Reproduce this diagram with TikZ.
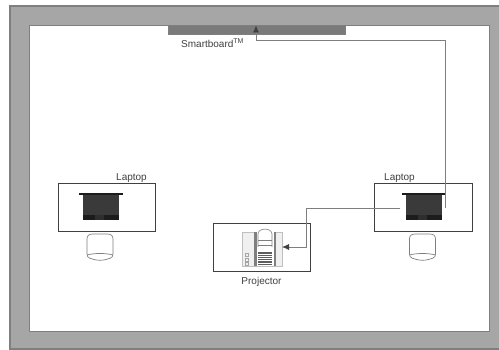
\documentclass[tikz,border=0pt]{standalone}
\usepackage{fontspec}
\setmainfont{Liberation Sans}
\usetikzlibrary{arrows.meta,calc}
\definecolor{wallfill}{HTML}{A6A6A6}
\definecolor{wallline}{HTML}{7F7F7F}
\definecolor{boardfill}{HTML}{7A7A7A}
\definecolor{ink}{HTML}{404040}
\definecolor{lap}{HTML}{3A3A3A}
\definecolor{lapdark}{HTML}{1C1C1C}
\tikzset{
  px/.style={x=1pt,y=-1pt},
  boxnode/.style={draw=ink,line width=0.8pt,fill=white,inner sep=0pt,outer sep=0pt},
  wire/.style={draw=wallline,line width=0.8pt},
  wirearrow/.style={wire,-{Latex[length=7pt,width=6pt,color=ink]}},
  lbl/.style={font=\fontsize{10}{12}\selectfont,text=ink,inner sep=0pt},
  chairline/.style={draw=wallline,line width=0.7pt,fill=white}
}
\newcommand{\laptopicon}[1]{% centre x
  \fill[lapdark] (#1-22,193.5) rectangle (#1+22,195);
  \fill[lap] (#1-18,195) rectangle (#1+18,215);
  \fill[lapdark] (#1-18,215) rectangle (#1+18,220);
  \fill[black!82] (#1-6,215.5) rectangle (#1+3,220);
}
\newcommand{\chairicon}[1]{% centre x
  \draw[chairline] (#1-13,239) .. controls (#1-13,235.5) and (#1-11,234) .. (#1-7,234)
     -- (#1+7,234) .. controls (#1+11,234) and (#1+13,235.5) .. (#1+13,239)
     -- (#1+13,254) .. controls (#1+13,258) and (#1+9,259) .. (#1+6,259.5)
     .. controls (#1+3,260.5) and (#1-3,260.5) .. (#1-6,259.5)
     .. controls (#1-9,259) and (#1-13,258) .. (#1-13,254) -- cycle;
  \draw[chairline,fill=none] (#1-13,255) .. controls (#1-6,253) and (#1+6,253) .. (#1+13,255);
}
\begin{document}
\begin{tikzpicture}[px]
\useasboundingbox (0,0) rectangle (499,350);
\fill[white] (0,0) rectangle (499,350);
% walls
\path[fill=wallfill] (10,6) rectangle (499,349);
\draw[wallline,line width=1.2pt] (499,6) -- (10,6) -- (10,349) -- (499,349);
\node[draw=wallline,line width=1.2pt,fill=white,minimum width=460pt,minimum height=306pt,inner sep=0pt,anchor=north west] (room) at (29,25) {};
% smartboard
\node[fill=boardfill,draw=wallline,line width=0.5pt,minimum width=177pt,minimum height=9pt,inner sep=0pt,anchor=north west] (board) at (168,25) {};
\node[lbl,anchor=north west] (boardlabel) at (181,38.5) {Smartboard\textsuperscript{\fontsize{7}{7}\selectfont TM}};
% desks
\node[boxnode,minimum width=97pt,minimum height=48pt,anchor=north west] (deskL) at (58,183) {};
\node[boxnode,minimum width=98pt,minimum height=48pt,anchor=north west] (deskR) at (374,183) {};
\node[boxnode,minimum width=97pt,minimum height=48pt,anchor=north west] (proj) at (213,223) {};
% labels
\node[lbl,anchor=south west] (lapL) at (116,183) {Laptop};
\node[lbl,anchor=south west] (lapR) at (384,183) {Laptop};
\node[lbl,anchor=north] (projlabel) at (261.5,277) {Projector};
% laptops and chairs
\laptopicon{101}
\laptopicon{424}
\chairicon{100}
\chairicon{422.5}
% projector icon
\fill[gray!12] (242,232) rectangle (282,266);
\draw[gray!50,line width=0.4pt] (242,232) rectangle (282,266);
\fill[wallline] (254,232) rectangle (256.5,266);
\fill[wallline] (273.5,232) rectangle (276,266);
\fill[white] (256.5,232) rectangle (273.5,266);
\draw[wallline,line width=0.6pt] (258,247) -- (258,234) .. controls (258,227.5) and (272,227.5) .. (272,234) -- (272,247);
\draw[wallline,line width=0.5pt] (258,240) -- (272,240);
\draw[wallline,line width=0.5pt] (258,245) -- (272,245);
\foreach \yy in {252,253.8,...,266} \draw[ink!85,line width=0.9pt] (258,\yy) -- (272,\yy);
\draw[gray!70,line width=0.5pt] (245,253) rectangle (248,256);
\draw[gray!70,line width=0.5pt] (245,258) rectangle (248,261);
\draw[gray!70,line width=0.5pt] (245,262) rectangle (248,265);
% connectors
\coordinate (srcA) at (445,208);
\coordinate (srcB) at (400,208);
\coordinate (hitB) at (282,247);
\draw[wirearrow] (srcA) -- (445,40) -- (256,40) -- (256,25.5);
\draw[wirearrow] (srcB) -- (306,208) -- (306,247) -- (hitB);
\end{tikzpicture}
\end{document}
